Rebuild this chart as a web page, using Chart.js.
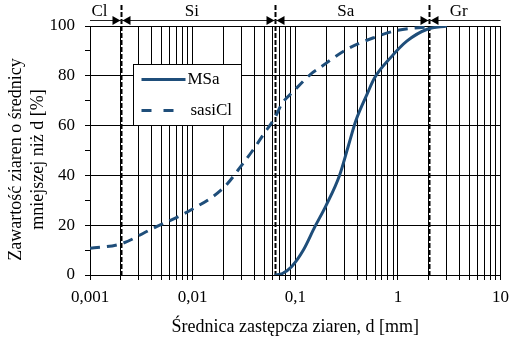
<!DOCTYPE html>
<html>
<head>
<meta charset="utf-8">
<script src="https://cdn.jsdelivr.net/npm/chart.js@4"></script>
<style>
    body { margin: 0; background: #fff; }
</style>
</head>
<body>
<canvas id="Chart1" width="516" height="340"></canvas>
<script>
// uziarnienie - dane
var msaD = [0.063, 0.075, 0.092, 0.12, 0.155, 0.2, 0.27, 0.33, 0.39, 0.5, 0.59, 0.85, 1.23, 1.93, 3.0];
var msaP = [0, 0.6, 3.3, 10, 19.3, 28, 40, 52, 62, 72.5, 79, 87.3, 94, 98.7, 100];
var sasiD = [0.001, 0.002, 0.004, 0.01, 0.02, 0.03, 0.04, 0.05, 0.063, 0.074, 0.1, 0.14, 0.17, 0.33, 0.6, 1.0, 2.0];
var sasiP = [10.7, 12.5, 18.5, 26.5, 35, 44, 51, 57, 63, 68.7, 74.5, 80.5, 83, 91, 95.5, 98.3, 99.7];

var xMajor = [0.001, 0.01, 0.1, 1, 10];
var xLabels = ['0,001', '0,01', '0,1', '1', '10'];
var yMajor = [0, 20, 40, 60, 80, 100];
var yTitle = ['Zawartość ziaren o średnicy', 'mniejszej niż d [%]'];

var zoneNames = ['Cl', 'Si', 'Sa', 'Gr'];
var zoneBounds = [0.002, 0.063, 2];

var lineColor = '#1f4e7a';
var serif = "'Liberation Serif', 'Times New Roman', serif";

function toPoints(xs, ys) {
    return xs.map(function (v, i) { return { x: v, y: ys[i] }; });
}

function xTickValues() {
    var out = [];
    for (var i = 0; i < xMajor.length; i++) {
        out.push(xMajor[i]);
        if (i < xMajor.length - 1) {
            for (var k = 2; k <= 9; k++) {
                out.push(parseFloat((xMajor[i] * k).toPrecision(6)));
            }
        }
    }
    return out;
}

var zonePlugin = {
    id: 'zones',
    beforeDatasetsDraw: function (chart) {
        var ctx = chart.ctx, xs = chart.scales.x, area = chart.chartArea;
        ctx.save();
        ctx.strokeStyle = '#000';
        ctx.lineWidth = 2;
        ctx.setLineDash([5, 2]);
        zoneBounds.forEach(function (b) {
            var px = Math.round(xs.getPixelForValue(b)) + 0.5;
            ctx.beginPath();
            ctx.moveTo(px, 5);
            ctx.lineTo(px, area.bottom);
            ctx.stroke();
        });
        ctx.restore();
    },
    afterDraw: function (chart) {
        var ctx = chart.ctx, xs = chart.scales.x, area = chart.chartArea;
        var ay = 20.5;
        ctx.save();

        // linia ze strzalkami
        ctx.strokeStyle = '#222';
        ctx.lineWidth = 1;
        ctx.beginPath();
        ctx.moveTo(area.left, ay);
        ctx.lineTo(area.right, ay);
        ctx.stroke();

        ctx.fillStyle = '#000';
        zoneBounds.forEach(function (b) {
            var px = Math.round(xs.getPixelForValue(b)) + 0.5;
            ctx.beginPath();
            ctx.moveTo(px - 1, ay);
            ctx.lineTo(px - 9, ay - 4.5);
            ctx.lineTo(px - 9, ay + 4.5);
            ctx.closePath();
            ctx.fill();
            ctx.beginPath();
            ctx.moveTo(px + 1, ay);
            ctx.lineTo(px + 9, ay - 4.5);
            ctx.lineTo(px + 9, ay + 4.5);
            ctx.closePath();
            ctx.fill();
        });

        ctx.font = '17px ' + serif;
        ctx.textAlign = 'center';
        ctx.textBaseline = 'middle';
        for (var i = 0; i < zoneNames.length; i++) {
            var l = i === 0 ? area.left : xs.getPixelForValue(zoneBounds[i - 1]);
            var r = i === zoneNames.length - 1 ? area.right : xs.getPixelForValue(zoneBounds[i]);
            ctx.fillText(zoneNames[i], (l + r) / 2 - 6, 12);
        }

        // opis osi Y
        ctx.save();
        ctx.font = '18px ' + serif;
        ctx.translate(0, (area.top + area.bottom) / 2 + 9);
        ctx.rotate(-Math.PI / 2);
        ctx.fillText(yTitle[0], 0, 16);
        ctx.fillText(yTitle[1], 0, 38);
        ctx.restore();

        // legenda
        var lx = area.left + 43.5, ly = area.top + 38.5, lw = 108, lh = 61;
        ctx.fillStyle = '#fff';
        ctx.fillRect(lx, ly, lw, lh);
        ctx.strokeStyle = '#000';
        ctx.lineWidth = 1;
        ctx.strokeRect(lx, ly, lw, lh);

        var sets = chart.data.datasets;
        ctx.lineWidth = 3;
        ctx.strokeStyle = lineColor;
        ctx.beginPath();
        ctx.moveTo(lx + 8, ly + 15);
        ctx.lineTo(lx + 52, ly + 15);
        ctx.stroke();
        ctx.setLineDash([10, 12]);
        ctx.beginPath();
        ctx.moveTo(lx + 8, ly + 46);
        ctx.lineTo(lx + 40, ly + 46);
        ctx.stroke();
        ctx.setLineDash([]);

        ctx.fillStyle = '#000';
        ctx.textAlign = 'left';
        ctx.fillText(sets[0].label, lx + 54, ly + 15);
        ctx.fillText(sets[1].label, lx + 57, ly + 46);
        ctx.restore();
    }
};

var ctx1 = document.getElementById('Chart1');
var crt1 = new Chart(ctx1, {
    type: 'line',
    data: {
        datasets: [{
            label: 'MSa',
            data: toPoints(msaD, msaP),
            borderColor: lineColor,
            borderWidth: 3,
            pointRadius: 0,
            cubicInterpolationMode: 'monotone',
            fill: false,
        }, {
            label: 'sasiCl',
            data: toPoints(sasiD, sasiP),
            borderColor: lineColor,
            borderWidth: 3,
            borderDash: [10, 7],
            pointRadius: 0,
            cubicInterpolationMode: 'monotone',
            fill: false,
        }],
    },
    options: {
        responsive: false,
        animation: false,
        layout: { padding: { top: 26, right: 12, left: 0, bottom: 0 } },
        plugins: {
            legend: { display: false },
            tooltip: { enabled: false },
        },
        scales: {
            x: {
                type: 'logarithmic',
                min: 0.001,
                max: 10,
                afterBuildTicks: function (scale) {
                    scale.ticks = xTickValues().map(function (v) {
                        return { value: v, major: xMajor.indexOf(v) >= 0 };
                    });
                },
                afterFit: function (scale) { scale.height = 65; },
                ticks: {
                    autoSkip: false,
                    maxRotation: 0,
                    padding: 7,
                    color: '#000',
                    font: { family: serif, size: 17 },
                    callback: function (value) {
                        var i = xMajor.indexOf(value);
                        return i >= 0 ? xLabels[i] : '';
                    },
                },
                grid: { color: '#000', lineWidth: 1, tickLength: 5, tickColor: '#000' },
                border: { color: '#000', width: 1 },
                title: {
                    display: true,
                    text: 'Średnica zastępcza ziaren, d [mm]',
                    color: '#000',
                    font: { family: serif, size: 18 },
                    padding: { top: 4, bottom: 2 },
                },
            },
            y: {
                min: 0,
                max: 100,
                afterFit: function (scale) { scale.width = 90; },
                ticks: {
                    stepSize: 10,
                    padding: 10,
                    color: '#000',
                    font: { family: serif, size: 17 },
                    callback: function (value) {
                        return yMajor.indexOf(value) >= 0 ? value : '';
                    },
                },
                grid: {
                    color: function (c) {
                        return c.tick && yMajor.indexOf(c.tick.value) >= 0 ? '#000' : 'rgba(0,0,0,0)';
                    },
                    lineWidth: 1,
                    tickLength: 5,
                    tickColor: '#000',
                },
                border: { color: '#000', width: 1 },
            },
        },
    },
    plugins: [zonePlugin],
});
</script>
</body>
</html>
